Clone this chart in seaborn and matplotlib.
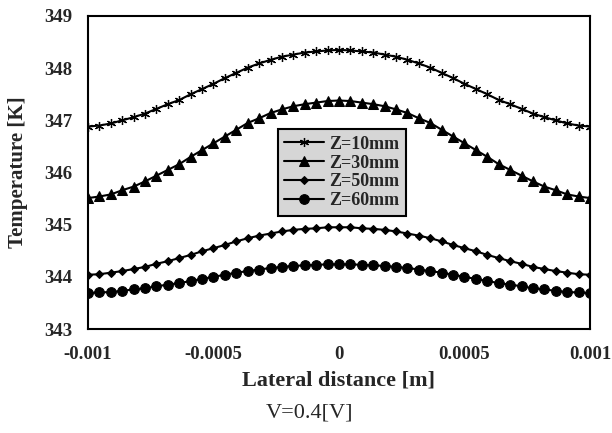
import numpy as np
import pandas as pd
import matplotlib
matplotlib.use("Agg")
import matplotlib.pyplot as plt
import seaborn as sns

# ---- data ----
x_pos = np.linspace(-0.001, 0.001, 45)

z10 = [346.88, 346.90, 346.94, 347.00, 347.06, 347.13, 347.22, 347.31, 347.39, 347.50, 347.60,
       347.70, 347.81, 347.91, 348.01, 348.09, 348.16, 348.22, 348.26, 348.30, 348.32, 348.34,
       348.35,
       348.34, 348.32, 348.30, 348.26, 348.22, 348.16, 348.09, 348.01, 347.91, 347.81, 347.70,
       347.60, 347.50, 347.39, 347.31, 347.22, 347.13, 347.06, 347.00, 346.94, 346.90, 346.88]
z30 = [345.51, 345.54, 345.58, 345.66, 345.73, 345.83, 345.94, 346.05, 346.16, 346.30, 346.43,
       346.56, 346.69, 346.82, 346.95, 347.04, 347.14, 347.21, 347.27, 347.31, 347.34, 347.37,
       347.38,
       347.37, 347.34, 347.31, 347.27, 347.21, 347.14, 347.04, 346.95, 346.82, 346.69, 346.56,
       346.43, 346.30, 346.16, 346.05, 345.94, 345.83, 345.73, 345.66, 345.58, 345.54, 345.51]
z50 = [344.04, 344.05, 344.08, 344.11, 344.15, 344.19, 344.25, 344.30, 344.36, 344.42, 344.49,
       344.55, 344.61, 344.68, 344.74, 344.79, 344.83, 344.87, 344.90, 344.92, 344.93, 344.95,
       344.95,
       344.95, 344.93, 344.92, 344.90, 344.87, 344.83, 344.79, 344.74, 344.68, 344.61, 344.55,
       344.49, 344.42, 344.36, 344.30, 344.25, 344.19, 344.15, 344.11, 344.08, 344.05, 344.04]
z60 = [343.69, 343.70, 343.71, 343.73, 343.76, 343.78, 343.82, 343.85, 343.88, 343.92, 343.96,
       344.00, 344.04, 344.08, 344.11, 344.14, 344.17, 344.19, 344.21, 344.22, 344.23, 344.24,
       344.24,
       344.24, 344.23, 344.22, 344.21, 344.19, 344.17, 344.14, 344.11, 344.08, 344.04, 344.00,
       343.96, 343.92, 343.88, 343.85, 343.82, 343.78, 343.76, 343.73, 343.71, 343.70, 343.69]

series_labels = ["Z=10mm", "Z=30mm", "Z=50mm", "Z=60mm"]
x_ticks = [-0.001, -0.0005, 0, 0.0005, 0.001]
x_tick_labels = ["-0.001", "-0.0005", "0", "0.0005", "0.001"]
y_ticks = [343, 344, 345, 346, 347, 348, 349]

# ---- plot ----
sns.set_style("white")
plt.rcParams["font.family"] = ["Liberation Serif", "DejaVu Serif"]

fig = plt.figure(figsize=(6.12, 4.33), dpi=100)
ax = fig.add_axes([88 / 612, 1 - 329 / 433, (590 - 88) / 612, (329 - 16) / 433])

styles = [
    dict(marker=(6, 2, 0), markersize=6.5, markeredgewidth=0.9),
    dict(marker="^", markersize=6.5),
    dict(marker="D", markersize=4),
    dict(marker="o", markersize=7),
]
for vals, lab, st in zip([z10, z30, z50, z60], series_labels, styles):
    df = pd.DataFrame({"x": x_pos, "y": vals})
    sns.lineplot(data=df, x="x", y="y", ax=ax, color="black", linewidth=1.5,
                 markerfacecolor="black", markeredgecolor="black", label=lab, **st)

ax.set_xlim(-0.001, 0.001)
ax.set_ylim(343, 349)
ax.set_xticks(x_ticks)
ax.set_xticklabels(x_tick_labels)
ax.set_yticks(y_ticks)
ax.tick_params(axis="y", length=0, labelsize=13.5, pad=11.5)
ax.tick_params(axis="x", length=0, labelsize=13.5, pad=12)
for t in ax.get_xticklabels() + ax.get_yticklabels():
    t.set_fontweight("bold")
for s in ax.spines.values():
    s.set_color("black")
    s.set_linewidth(1.5)

ax.set_xlabel("Lateral distance [m]", fontsize=16, fontweight="bold")
ax.set_ylabel("Temperature [K]", fontsize=15, fontweight="bold")
ax.yaxis.set_label_coords(-60 / 502, 0.5)
ax.xaxis.set_label_coords(0.5, -42 / 313)

leg = ax.legend(loc="center", bbox_to_anchor=(0.506, 0.50), frameon=True, fancybox=False,
                framealpha=1, facecolor="#d6d6d6", edgecolor="black",
                prop=dict(family="Liberation Serif", weight="bold", size=13),
                handlelength=2.2, handletextpad=0.3, labelspacing=0.1, borderpad=0.35,
                borderaxespad=0)
leg.get_frame().set_linewidth(1.5)

fig.text(310 / 612, 1 - 413 / 433, "V=0.4[V]", ha="center", va="center", fontsize=16)

fig.savefig("out.png", dpi=100)
